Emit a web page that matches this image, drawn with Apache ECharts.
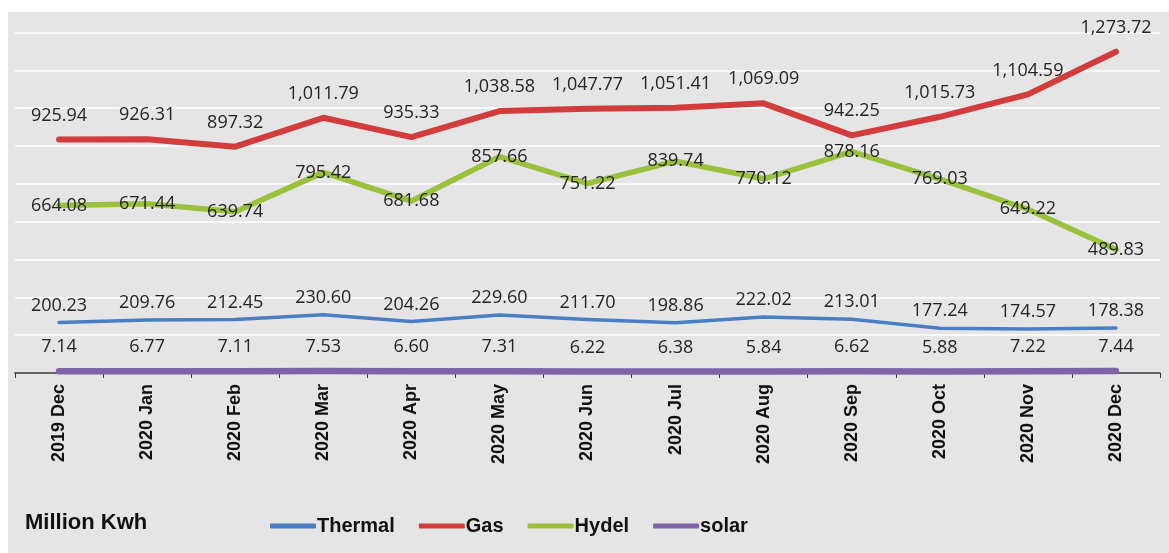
<!DOCTYPE html>
<html>
<head>
<meta charset="utf-8">
<script src="https://cdn.jsdelivr.net/npm/echarts@6/dist/echarts.min.js"></script>
<style>
  html, body { margin: 0; padding: 0; background: #ffffff; }
  #chart { position: absolute; left: 8px; top: 12px; width: 1161px; height: 541px; }
</style>
</head>
<body>
<div id="chart"></div>
<script>
// 月份
var months = ['2019 Dec', '2020 Jan', '2020 Feb', '2020 Mar', '2020 Apr', '2020 May', '2020 Jun',
  '2020 Jul', '2020 Aug', '2020 Sep', '2020 Oct', '2020 Nov', '2020 Dec'];
// 各类发电量 (Million Kwh)
var thermal = [200.23, 209.76, 212.45, 230.60, 204.26, 229.60, 211.70, 198.86, 222.02, 213.01, 177.24, 174.57, 178.38];
var gas = [925.94, 926.31, 897.32, 1011.79, 935.33, 1038.58, 1047.77, 1051.41, 1069.09, 942.25, 1015.73, 1104.59, 1273.72];
var hydel = [664.08, 671.44, 639.74, 795.42, 681.68, 857.66, 751.22, 839.74, 770.12, 878.16, 769.03, 649.22, 489.83];
var solar = [7.14, 6.77, 7.11, 7.53, 6.60, 7.31, 6.22, 6.38, 5.84, 6.62, 5.88, 7.22, 7.44];

var colors = { Thermal: '#4a7ec4', Gas: '#d23c3c', Hydel: '#9bc03c', solar: '#8062a8' };

function fmt(p) {
  return Number(p.value).toLocaleString('en-US', {minimumFractionDigits: 2, maximumFractionDigits: 2});
}

// 每条线的样式
function makeSerie(name, data, width, dy) {
  return {
    type: 'line',
    name: name,
    data: data,
    symbol: 'circle',
    symbolSize: 1,
    itemStyle: { color: 'rgba(0,0,0,0)' },
    lineStyle: { color: colors[name], width: width, cap: 'round', join: 'round' },
    label: {
      show: true,
      position: 'inside',
      offset: [0, dy],
      formatter: fmt,
      color: '#242424',
      fontFamily: 'Open Sans',
      fontSize: 18
    },
    emphasis: { disabled: true }
  };
}

var legendData = [];
for (var k in colors) {
  legendData.push({ name: k, itemStyle: { color: colors[k] } });
}

var chart = echarts.init(document.getElementById('chart'));
var option = {
  backgroundColor: '#e5e5e5',
  animation: false,
  grid: { left: 7, right: 9, top: 20.5, bottom: 180, containLabel: false },
  legend: {
    left: 257,
    top: 499,
    icon: 'roundRect',
    itemWidth: 46,
    itemHeight: 5,
    itemGap: 24,
    textStyle: { fontFamily: 'Liberation Sans', fontWeight: 'bold', fontSize: 20, color: '#111', padding: [0, 0, 0, -4] },
    data: legendData
  },
  graphic: [{
    type: 'text',
    left: 17,
    top: 500,
    style: { text: 'Million Kwh', fontFamily: 'Liberation Sans', fontWeight: 'bold', fontSize: 22, fill: '#111' }
  }],
  xAxis: {
    type: 'category',
    data: months,
    boundaryGap: true,
    axisLine: { lineStyle: { color: '#333', width: 1.5 } },
    axisTick: { show: true, length: 5, lineStyle: { color: '#333' } },
    axisLabel: { rotate: 90, margin: 11, fontFamily: 'Liberation Sans', fontWeight: 'bold', fontSize: 18, color: '#111' }
  },
  yAxis: {
    type: 'value',
    min: 0,
    max: 1350,
    interval: 150,
    axisLine: { show: false },
    axisTick: { show: false },
    axisLabel: { show: false },
    splitLine: { lineStyle: { color: '#ffffff', width: 1.5 } }
  },
  series: [
    makeSerie('Thermal', thermal, 3.5, -17),
    makeSerie('Gas', gas, 6, -24),
    makeSerie('Hydel', hydel, 5.5, 0),
    makeSerie('solar', solar, 6.5, -24)
  ]
};
chart.setOption(option);
</script>
</body>
</html>
